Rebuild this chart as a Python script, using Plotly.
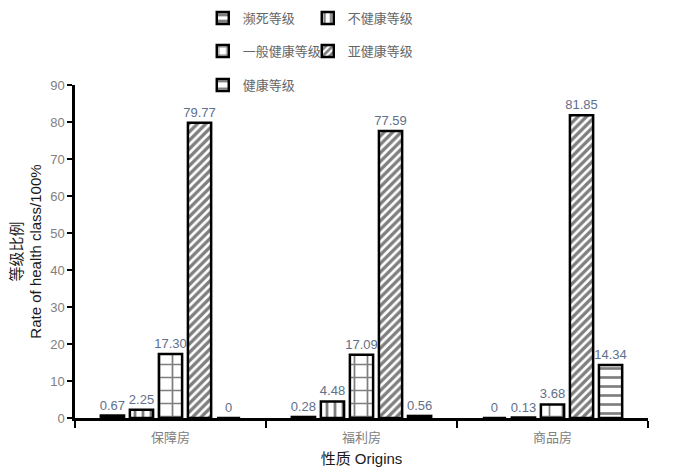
import plotly.graph_objects as go

# housing types
categories = ["保障房", "福利房", "商品房"]

# health class shares (%) per housing type
series_names = ["濒死等级", "不健康等级", "一般健康等级", "亚健康等级", "健康等级"]
dying = [0.67, 0.28, 0]
unhealthy = [2.25, 4.48, 0.13]
general = [17.30, 17.09, 3.68]
subhealthy = [79.77, 77.59, 81.85]
healthy = [0, 0.56, 14.34]

series_values = [dying, unhealthy, general, subhealthy, healthy]
patterns = ["-", "|", "+", "/", "-"]
pattern_sizes = [8, 8, 13, 6, 9]
pattern_solid = [0.5, 0.35, 0.25, 0.55, 0.3]
legend_ids = ["legend", "legend", "legend2", "legend2", "legend3"]

font_family = "Liberation Sans, Arial, Noto Sans CJK SC"
label_color = "#60708a"

fig = go.Figure()
for name, vals, shp, sz, sol, lg in zip(series_names, series_values, patterns,
                                        pattern_sizes, pattern_solid, legend_ids):
    fig.add_trace(go.Bar(
        x=categories, y=vals, name=name, legend=lg,
        text=[f"{v:.2f}" if v else "0" for v in vals],
        textposition="outside", cliponaxis=False, constraintext="none",
        textfont=dict(size=13, color=label_color),
        marker=dict(color="white",
                    line=dict(color="black", width=2.5),
                    pattern=dict(shape=shp, size=sz, solidity=sol,
                                 fgcolor="black", bgcolor="white")),
    ))

legend_common = dict(orientation="h", xanchor="left", yanchor="middle",
                     entrywidth=60, entrywidthmode="pixels",
                     font=dict(size=13, color="#666666", family=font_family),
                     bgcolor="rgba(0,0,0,0)", itemwidth=30, tracegroupgap=0)

fig.update_layout(
    width=678, height=470,
    margin=dict(l=75, r=30, t=85, b=52, autoexpand=False),
    plot_bgcolor="white", paper_bgcolor="white",
    font=dict(family=font_family, size=13, color="#808080"),
    barmode="group", bargap=0.24, bargroupgap=0.2,
    showlegend=True,
    legend=dict(x=0.223, y=1.201, **legend_common),
    legend2=dict(x=0.223, y=1.102, **legend_common),
    legend3=dict(x=0.223, y=1.0, **legend_common),
    xaxis=dict(showline=True, linecolor="black", linewidth=2.5,
               ticks="outside", tickson="boundaries", ticklen=7,
               tickwidth=2, tickcolor="black", automargin=False,
               ticklabelstandoff=6,
               tickfont=dict(size=13, color="#808080"),
               title=dict(text="性质 Origins", standoff=10,
                          font=dict(size=15, color="#1a1a1a"))),
    yaxis=dict(range=[0, 90], dtick=10, showline=True, linecolor="black",
               linewidth=2.5, ticks="outside", ticklen=5, tickwidth=2,
               tickcolor="black", showgrid=False, zeroline=False,
               automargin=False,
               tickfont=dict(size=13, color="#808080"),
               title=dict(text="等级比例<br>Rate of health class/100%",
                          standoff=5, font=dict(size=15, color="#1a1a1a"))),
)

# drop the browser's default 8px page margin so the figure sits at (0, 0)
fig.write_html("out.html", config={"displayModeBar": False},
               post_script="document.body.style.margin = '0';")
